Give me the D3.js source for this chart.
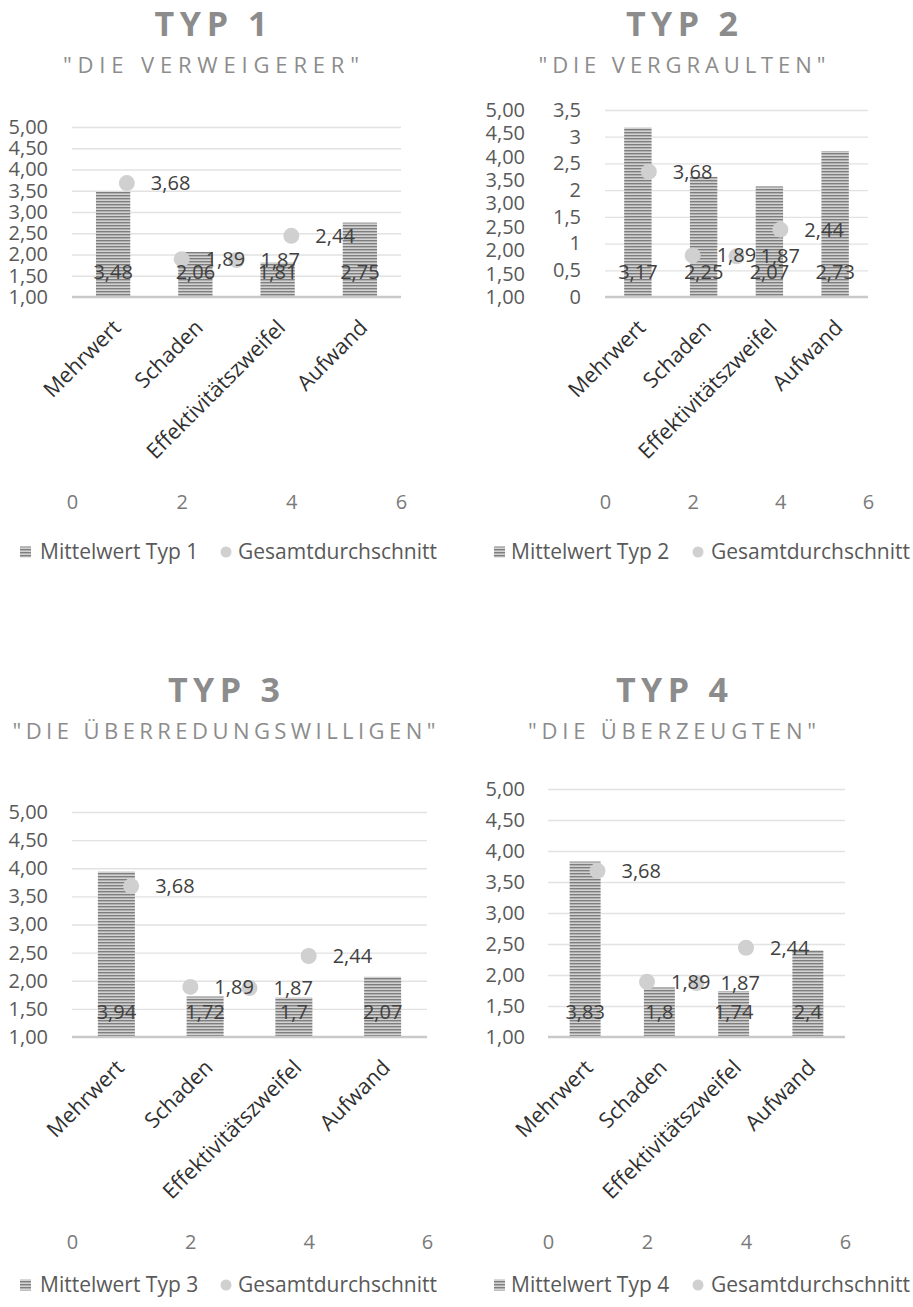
<!DOCTYPE html>
<html>
<head>
<meta charset="utf-8">
<script src="https://cdn.jsdelivr.net/npm/d3@7"></script>
<style>
  body { margin: 0; background: #fff; }
  svg { display: block; }
  text { font-family: "Open Sans", "Noto Sans", sans-serif; }
</style>
</head>
<body>
<svg id="chart" width="913" height="1307"></svg>
<script>
// Category and series data
const categories = ["Mehrwert", "Schaden", "Effektivitätszweifel", "Aufwand"];
const typeTitles = ["TYP 1", "TYP 2", "TYP 3", "TYP 4"];
const typeSubtitles = ['"DIE VERWEIGERER"', '"DIE VERGRAULTEN"', '"DIE ÜBERREDUNGSWILLIGEN"', '"DIE ÜBERZEUGTEN"'];
const meanTyp1 = [3.48, 2.06, 1.81, 2.75];
const meanTyp2 = [3.17, 2.25, 2.07, 2.73];
const meanTyp3 = [3.94, 1.72, 1.7, 2.07];
const meanTyp4 = [3.83, 1.8, 1.74, 2.4];
const overallAverage = [3.68, 1.89, 1.87, 2.44];
const overallAverageX = [1, 2, 3, 4];
const scoreTicks = [1, 1.5, 2, 2.5, 3, 3.5, 4, 4.5, 5];
const secondaryTicks = [0, 0.5, 1, 1.5, 2, 2.5, 3, 3.5];
const scatterXTicks = [0, 2, 4, 6];
const meanLegendLabels = ["Mittelwert Typ 1", "Mittelwert Typ 2", "Mittelwert Typ 3", "Mittelwert Typ 4"];
const averageLegendLabel = "Gesamtdurchschnitt";

// Panel geometry
const panels = [
  { means: meanTyp1, plot: { x0: 72, x1: 401, top: 127, bottom: 297 }, dualAxis: false,
    titleX: 211, titleY: 36, subY: 73, titleW: 113, subW: 296, tickEnd: 48,
    xTickY: 502, legendY: 552, legendX: [20, 40, 226, 238] },
  { means: meanTyp2, plot: { x0: 605, x1: 868, top: 110, bottom: 297 }, dualAxis: true,
    titleX: 682, titleY: 36, subY: 73, titleW: 112, subW: 287, tickEnd: 525, secTickEnd: 581,
    xTickY: 502, legendY: 552, legendX: [494, 511, 698, 711] },
  { means: meanTyp3, plot: { x0: 72, x1: 427, top: 812, bottom: 1037 }, dualAxis: false,
    titleX: 224, titleY: 702, subY: 739, titleW: 112, subW: 423, tickEnd: 48,
    xTickY: 1242, legendY: 1285, legendX: [20, 40, 226, 238] },
  { means: meanTyp4, plot: { x0: 548, x1: 845, top: 789, bottom: 1037 }, dualAxis: false,
    titleX: 672, titleY: 702, subY: 739, titleW: 112, subW: 288, tickEnd: 525,
    xTickY: 1242, legendY: 1285, legendX: [494, 511, 698, 711] }
];

const svg = d3.select("#chart");
const comma = v => String(v).replace(".", ",");
const comma2 = v => v.toFixed(2).replace(".", ",");

// Narrow horizontal stripe fill for the bars
const defs = svg.append("defs");
const pat = defs.append("pattern").attr("id", "stripes")
  .attr("patternUnits", "userSpaceOnUse").attr("width", 4).attr("height", 3);
pat.append("rect").attr("width", 4).attr("height", 3).attr("fill", "#d2d2d2");
pat.append("rect").attr("width", 4).attr("height", 1).attr("fill", "#7e7e7e");
pat.append("rect").attr("y", 1).attr("width", 4).attr("height", 0.8).attr("fill", "#a8a8a8");

const FONT = 20;
const CAT_FONT = 21.5;
const LEGEND_FONT = 21;

panels.forEach((p, i) => {
  const g = svg.append("g");
  const { x0, x1, top, bottom } = p.plot;

  // Title + subtitle
  g.append("text").attr("x", p.titleX).attr("y", p.titleY)
    .attr("text-anchor", "middle").attr("font-size", 34).attr("font-weight", 700)
    .attr("fill", "#8c8c8c").attr("textLength", p.titleW).attr("lengthAdjust", "spacing")
    .text(typeTitles[i]);
  g.append("text").attr("x", p.titleX).attr("y", p.subY)
    .attr("text-anchor", "middle").attr("font-size", 22)
    .attr("fill", "#8c8c8c").attr("textLength", p.subW).attr("lengthAdjust", "spacing")
    .text(typeSubtitles[i]);

  // Scales
  const xBand = d3.scaleBand().domain(categories).range([x0, x1])
    .paddingInner(0.583).paddingOuter(0.2915);
  const xScatter = d3.scaleLinear().domain([0, 6]).range([x0, x1]);
  const yScore = d3.scaleLinear().domain([1, 5]).range([bottom, top]);
  const ySec = d3.scaleLinear().domain([0, 3.5]).range([bottom, top]);
  const yBar = p.dualAxis ? ySec : yScore;
  const gridTicks = p.dualAxis ? secondaryTicks : scoreTicks;

  // Gridlines
  const grid = g.append("g").attr("transform", `translate(${x0},0)`)
    .call(d3.axisLeft(yBar).tickValues(gridTicks.slice(1)).tickSize(-(x1 - x0)).tickFormat(""));
  grid.select(".domain").remove();
  grid.selectAll("line").attr("stroke", "#e2e2e2").attr("stroke-width", 1.3);

  // Left value axis labels
  const yAx = g.append("g").attr("transform", `translate(${p.tickEnd},0)`)
    .call(d3.axisLeft(yScore).tickValues(scoreTicks).tickSize(0).tickPadding(0).tickFormat(comma2));
  yAx.select(".domain").remove();
  yAx.selectAll("text").attr("font-size", FONT).attr("fill", "#595959")
    .attr("font-family", '"Open Sans", sans-serif');

  if (p.dualAxis) {
    const y2 = g.append("g").attr("transform", `translate(${p.secTickEnd},0)`)
      .call(d3.axisLeft(ySec).tickValues(secondaryTicks).tickSize(0).tickPadding(0).tickFormat(comma));
    y2.select(".domain").remove();
    y2.selectAll("text").attr("font-size", FONT).attr("fill", "#595959")
      .attr("font-family", '"Open Sans", sans-serif');
  }

  // Bars
  g.selectAll("rect.bar").data(p.means).join("rect").attr("class", "bar")
    .attr("x", (d, k) => xBand(categories[k]))
    .attr("width", xBand.bandwidth())
    .attr("y", d => yBar(d))
    .attr("height", d => yBar(yBar.domain()[0]) - yBar(d))
    .attr("fill", "url(#stripes)");

  // Category axis line
  g.append("line").attr("x1", x0).attr("x2", x1).attr("y1", bottom).attr("y2", bottom)
    .attr("stroke", "#c9c9c9").attr("stroke-width", 2.5);

  // Rotated category labels
  g.selectAll("text.cat").data(categories).join("text").attr("class", "cat")
    .attr("transform", d => `translate(${xBand(d) + xBand.bandwidth() / 2 + 9},${bottom + 32}) rotate(-45)`)
    .attr("text-anchor", "end").attr("font-size", CAT_FONT).attr("fill", "#303030")
    .text(d => d);

  // Overall average points
  g.selectAll("circle.avg").data(overallAverage).join("circle").attr("class", "avg")
    .attr("cx", (d, k) => xScatter(overallAverageX[k]))
    .attr("cy", d => yScore(d))
    .attr("r", 8).attr("fill", "#d0d0d0");

  // Bar value labels (inside base)
  g.selectAll("text.barlab").data(p.means).join("text").attr("class", "barlab")
    .attr("x", (d, k) => xBand(categories[k]) + xBand.bandwidth() / 2)
    .attr("y", bottom - 18.5)
    .attr("text-anchor", "middle").attr("font-size", FONT).attr("fill", "#404040")
    .text(d => comma(d));

  // Point value labels (right)
  g.selectAll("text.avglab").data(overallAverage).join("text").attr("class", "avglab")
    .attr("x", (d, k) => xScatter(overallAverageX[k]) + 24)
    .attr("y", d => yScore(d) + 7)
    .attr("font-size", FONT).attr("fill", "#404040")
    .text(d => comma(d));

  // Secondary horizontal axis (scatter)
  const xAx = g.append("g").attr("transform", `translate(0,${p.xTickY - 7})`)
    .call(d3.axisBottom(xScatter).tickValues(scatterXTicks).tickSize(0).tickPadding(0).tickFormat(d => d));
  xAx.select(".domain").remove();
  xAx.selectAll("text").attr("font-size", FONT).attr("fill", "#7a7a7a")
    .attr("font-family", '"Open Sans", sans-serif');

  // Legend
  const [sqX, t1X, cX, t2X] = p.legendX;
  g.append("rect").attr("x", sqX).attr("y", p.legendY - 5.5).attr("width", 11).attr("height", 11)
    .attr("fill", "url(#stripes)");
  g.append("text").attr("x", t1X).attr("y", p.legendY).attr("dy", "0.35em")
    .attr("font-size", LEGEND_FONT).attr("fill", "#595959").text(meanLegendLabels[i]);
  g.append("circle").attr("cx", cX).attr("cy", p.legendY).attr("r", 5.5).attr("fill", "#d0d0d0");
  g.append("text").attr("x", t2X).attr("y", p.legendY).attr("dy", "0.35em")
    .attr("font-size", LEGEND_FONT).attr("fill", "#595959").text(averageLegendLabel);
});
</script>
</body>
</html>
